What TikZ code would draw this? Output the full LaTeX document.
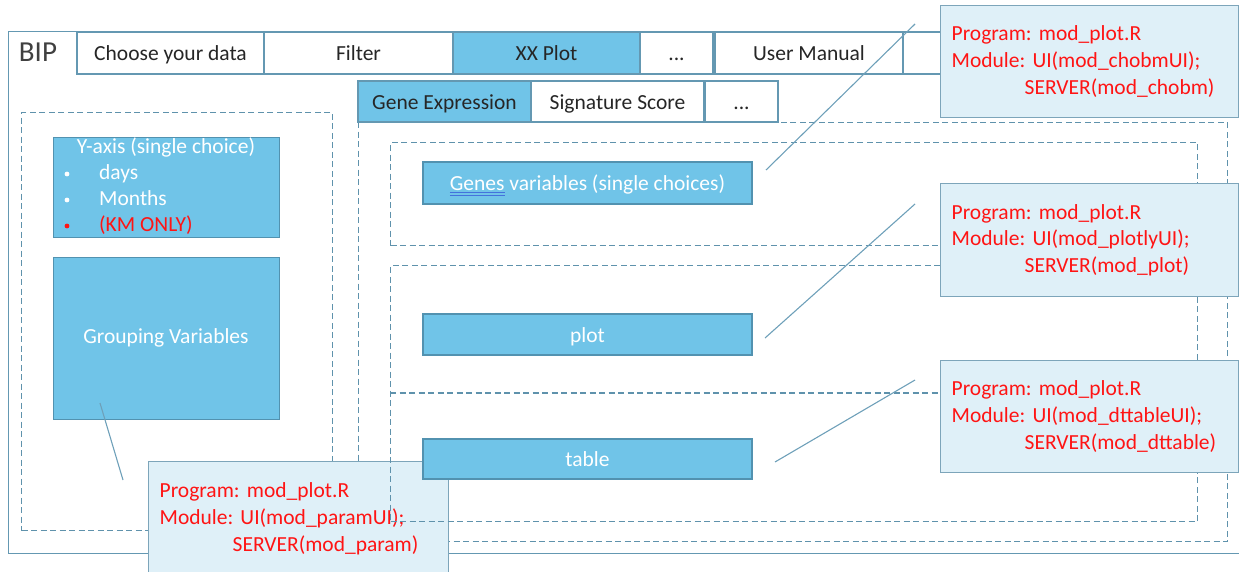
\documentclass[tikz,border=0pt]{standalone}
\usepackage{fontspec}
\setmainfont{Carlito}
\frenchspacing
\definecolor{framecol}{RGB}{100,152,178}
\definecolor{dashcol}{RGB}{95,146,172}
\definecolor{skyfill}{RGB}{112,196,232}
\definecolor{boxline}{RGB}{82,146,176}
\definecolor{callfill}{RGB}{223,240,248}
\definecolor{callline}{RGB}{125,165,186}
\definecolor{connline}{RGB}{110,160,185}
\definecolor{tabtext}{RGB}{38,38,38}
\definecolor{biptext}{RGB}{64,64,64}
\definecolor{ulblue}{RGB}{68,114,220}
\definecolor{callred}{RGB}{255,20,20}
\newcommand\fsmain{\fontsize{21.5}{26}\selectfont}
\newcommand\fscall{\fontsize{21.5}{26.8}\selectfont}
\newcommand\spellund[1]{\setbox0=\hbox{#1}\rlap{\color{ulblue}\rule[-2.6pt]{\wd0}{0.9pt}}\rlap{\color{ulblue}\rule[-5.2pt]{\wd0}{0.9pt}}\box0\relax}
\tikzset{
  framebox/.style={draw=framecol, line width=1.3pt, inner sep=0pt, anchor=north west},
  tabbox/.style={draw=framecol, line width=1.3pt, fill=white, inner sep=0pt, text=tabtext, font=\fsmain, text height=15pt, text depth=0pt},
  tabon/.style={tabbox, fill=skyfill},
  dline/.style={draw=dashcol, dash pattern=on 6pt off 3.5pt, line width=1.4pt},
  dbox/.style={dline, inner sep=0pt, anchor=north west},
  bluebox/.style={draw=boxline, fill=skyfill, line width=1.2pt, inner sep=0pt, text=white, font=\fsmain, text height=15pt, text depth=0pt},
  wtext/.style={text=white, font=\fsmain, inner sep=0pt, text height=15pt, text depth=4pt},
  callout/.style={draw=callline, fill=callfill, line width=1.3pt, text=callred, align=left, text width=276pt, inner xsep=11pt, inner ysep=0pt, font=\fscall, anchor=north west},
  conn/.style={draw=connline, line width=1.1pt}
}
\begin{document}
\begin{tikzpicture}[x=1pt,y=-1pt]
\useasboundingbox (0,0) rectangle (1239,571);
% outer frame
\node[framebox, minimum width=1242pt, minimum height=522pt] (frame) at (8,31) {};
\node[text=biptext, font=\fontsize{29}{34}\selectfont, inner sep=0pt] (bip) at (38,52) {BIP};
% top tabs
\node[tabbox, minimum width=187pt, minimum height=42pt] (tchoose) at (170.5,53) {Choose your data};
\node[tabbox, minimum width=189pt, minimum height=42pt] (tfilter) at (358.5,53) {Filter};
\node[tabon, minimum width=187pt, minimum height=42pt] (txx) at (546.5,53) {XX Plot};
\node[tabbox, minimum width=73pt, minimum height=42pt] (tdots) at (676.5,53) {...};
\node[tabbox, minimum width=188pt, minimum height=42pt] (tman) at (809,53) {User Manual};
\node[tabbox, minimum width=120pt, minimum height=42pt] (tmore) at (963,53) {};
% dashed panels
\node[dbox, minimum width=311pt, minimum height=418pt] (leftpanel) at (21,112) {};
\node[dbox, minimum width=869pt, minimum height=419pt] (rightpanel) at (358,122) {};
% sub tabs
\node[tabon, minimum width=173pt, minimum height=41pt] (sgene) at (444.5,101.5) {Gene Expression};
\node[tabbox, minimum width=173pt, minimum height=41pt] (ssig) at (617.5,101.5) {Signature Score};
\node[tabbox, minimum width=73pt, minimum height=41pt] (sdots) at (741.5,101.5) {...};
% left side boxes
\node[bluebox, minimum width=226pt, minimum height=100pt, anchor=north west] (yaxis) at (53,137) {};
\node[wtext] (ytitle) at (166,148) {Y-axis (single choice)};
\fill[white] (67,174) circle (2.4pt);
\node[wtext, anchor=west] (ydays) at (99,174) {days};
\fill[white] (67,200) circle (2.4pt);
\node[wtext, anchor=west] (ymonths) at (99,200) {Months};
\fill[callred] (67,226) circle (2.4pt);
\node[wtext, text=callred, anchor=west] (ykm) at (99,226) {(KM ONLY)};
\node[bluebox, minimum width=226pt, minimum height=162pt, anchor=north west] (group) at (53,257) {};
\node[wtext] (grouptext) at (166,338) {Grouping Variables};
\coordinate (c4a) at (100,403);
\coordinate (c4b) at (123,480);
\draw[conn] (c4a) -- (c4b);
% callout 4
\node[callout, minimum height=114pt, text width=278pt] (call4) at (148,461) {Program: mod\_plot.R\\Module: UI(mod\_paramUI);\\\hspace*{73pt}SERVER(mod\_param)};
% inner dashed sections
\node[dbox, minimum width=807pt, minimum height=103pt] (sec1) at (390,142) {};
\node[dbox, minimum width=807pt, minimum height=256pt] (sec2) at (390,265) {};
\node[inner sep=0pt, anchor=north west, minimum width=807pt, minimum height=128pt] (sec3) at (390,393) {};
\draw[dline] (sec3.north west) -- (sec3.north east);
% blue widgets
\node[bluebox, minimum width=329pt, minimum height=42pt] (genes) at (587.5,183) {\spellund{Genes} variables (single choices)};
\node[bluebox, minimum width=329pt, minimum height=41pt] (plot) at (587.5,334.5) {plot};
\node[bluebox, minimum width=329pt, minimum height=40pt] (table) at (587.5,459) {table};
% connectors
\coordinate (c1a) at (766,170);
\coordinate (c1b) at (915,24);
\coordinate (c2a) at (765,338);
\coordinate (c2b) at (915,204);
\coordinate (c3a) at (775,462);
\coordinate (c3b) at (915,380);
\draw[conn] (c1a) -- (c1b);
\draw[conn] (c2a) -- (c2b);
\draw[conn] (c3a) -- (c3b);
% right callouts
\node[callout, minimum height=112pt] (call1) at (940,5) {Program: mod\_plot.R\\Module: UI(mod\_chobmUI);\\\hspace*{73pt}SERVER(mod\_chobm)};
\node[callout, minimum height=113pt] (call2) at (940,183) {Program: mod\_plot.R\\Module: UI(mod\_plotlyUI);\\\hspace*{73pt}SERVER(mod\_plot)};
\node[callout, minimum height=112pt] (call3) at (940,360) {Program: mod\_plot.R\\Module: UI(mod\_dttableUI);\\\hspace*{73pt}SERVER(mod\_dttable)};
\end{tikzpicture}
\end{document}
